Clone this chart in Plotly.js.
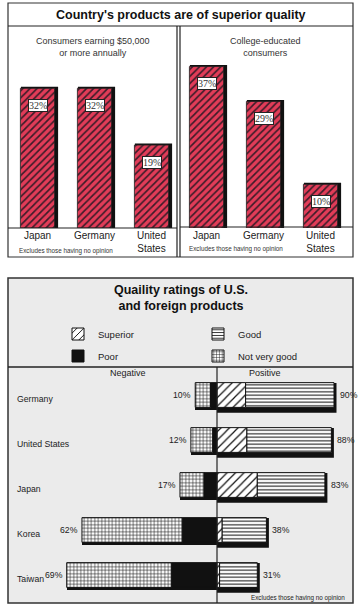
<!DOCTYPE html>
<html>
<head>
<meta charset="utf-8">
<script src="https://cdn.plot.ly/plotly-3.0.1.min.js"></script>
<style>html,body{margin:0;padding:0;background:#fff;}#chart{width:361px;height:610px;}</style>
</head>
<body>
<div id="chart"></div>
<script>
// ---- data ----
const topCategories = ['Japan', 'Germany', 'United<br>States'];
const incomeValues = [32, 32, 19];          // Consumers earning $50,000 or more annually
const collegeValues = [37, 29, 10];         // College-educated consumers

const countries = ['Germany', 'United States', 'Japan', 'Korea', 'Taiwan'];
const superior = [22, 23, 31, 4, 2];
const good = [68, 65, 52, 34, 29];
const poor = [3, 2, 6, 16, 21];
const notVeryGood = [7, 10, 11, 46, 48];

// ---- helpers ----
const W = 361, H = 610;
const px = x => x / W;
const py = y => 1 - y / H;
const SANS = 'Liberation Sans, Arial, sans-serif';
const SERIF = 'Liberation Serif, Times New Roman, serif';

const negTotals = poor.map((p, i) => p + notVeryGood[i]);
const posTotals = superior.map((s, i) => s + good[i]);

const RED = '#e23c58';
const topBar = (vals, xa, ya) => ([
  { type: 'bar', x: topCategories, y: vals, xaxis: xa, yaxis: ya, width: 0.6, offset: -0.3 + 0.035,
    marker: { color: '#111', line: { color: '#111', width: 3 } }, showlegend: false, hoverinfo: 'skip' },
  { type: 'bar', x: topCategories, y: vals, xaxis: xa, yaxis: ya, width: 0.6, offset: -0.3,
    marker: { color: RED, line: { color: '#222', width: 0.8 },
      pattern: { shape: '/', fgcolor: '#3a1c28', bgcolor: RED, size: 5, solidity: 0.33 } },
    showlegend: false, hoverinfo: 'skip' }
]);

const BW = 0.55, SH = 0.065;
const traces = [
  ...topBar(incomeValues, 'x', 'y'),
  ...topBar(collegeValues, 'x2', 'y2'),
  // shadows
  { type: 'bar', orientation: 'h', y: countries, x: negTotals, base: negTotals.map(v => -v),
    xaxis: 'x3', yaxis: 'y3', width: BW, offset: -BW / 2 + SH,
    marker: { color: '#111', line: { color: '#111', width: 0 } }, showlegend: false, hoverinfo: 'skip' },
  { type: 'bar', orientation: 'h', y: countries, x: posTotals, base: posTotals.map(() => 0),
    xaxis: 'x4', yaxis: 'y3', width: BW, offset: -BW / 2 + SH,
    marker: { color: '#111', line: { color: '#111', width: 5 } }, showlegend: false, hoverinfo: 'skip' },
  // segments
  { type: 'bar', orientation: 'h', name: 'Superior', y: countries, x: superior, base: superior.map(() => 0),
    xaxis: 'x4', yaxis: 'y3', width: BW, offset: -BW / 2, legend: 'legend',
    marker: { color: '#fff', line: { color: '#111', width: 1 },
      pattern: { shape: '/', fgcolor: '#111', bgcolor: '#fff', size: 6, solidity: 0.2 } }, hoverinfo: 'skip' },
  { type: 'bar', orientation: 'h', name: 'Good', y: countries, x: good, base: superior,
    xaxis: 'x4', yaxis: 'y3', width: BW, offset: -BW / 2, legend: 'legend',
    marker: { color: '#fff', line: { color: '#111', width: 1 },
      pattern: { shape: '-', fgcolor: '#111', bgcolor: '#fff', size: 3.5, solidity: 0.3 } }, hoverinfo: 'skip' },
  { type: 'bar', orientation: 'h', name: 'Poor', y: countries, x: poor, base: poor.map(v => -v),
    xaxis: 'x3', yaxis: 'y3', width: BW, offset: -BW / 2, legend: 'legend2',
    marker: { color: '#111', line: { color: '#111', width: 1 } }, hoverinfo: 'skip' },
  { type: 'bar', orientation: 'h', name: 'Not very good', y: countries, x: notVeryGood, base: negTotals.map(v => -v),
    xaxis: 'x3', yaxis: 'y3', width: BW, offset: -BW / 2, legend: 'legend2',
    marker: { color: '#fff', line: { color: '#111', width: 1 },
      pattern: { shape: '+', fgcolor: '#111', bgcolor: '#fff', size: 3.5, solidity: 0.3 } }, hoverinfo: 'skip' }
];

const annotations = [];
const A = (o) => annotations.push(Object.assign({ showarrow: false, font: { family: SANS, size: 9, color: '#222' } }, o));

// top texts
A({ xref: 'paper', yref: 'paper', x: px(181), y: py(15), text: "<b>Country's products are of superior quality</b>",
    font: { family: SANS, size: 12.5, color: '#111' }, xanchor: 'center', yanchor: 'middle' });
A({ xref: 'paper', yref: 'paper', x: px(93), y: py(47), text: 'Consumers earning $50,000<br>or more annually',
    font: { family: SANS, size: 9, color: '#333' }, xanchor: 'center', yanchor: 'middle' });
A({ xref: 'paper', yref: 'paper', x: px(265), y: py(47), text: 'College-educated<br>consumers',
    font: { family: SANS, size: 9, color: '#333' }, xanchor: 'center', yanchor: 'middle' });
A({ xref: 'paper', yref: 'paper', x: px(17), y: py(251), text: 'Excludes those having no opinion',
    font: { family: SANS, size: 6.3, color: '#333' }, xanchor: 'left', yanchor: 'middle' });
A({ xref: 'paper', yref: 'paper', x: px(187), y: py(249), text: 'Excludes those having no opinion',
    font: { family: SANS, size: 6.3, color: '#333' }, xanchor: 'left', yanchor: 'middle' });
[[incomeValues, 'x', 'y'], [collegeValues, 'x2', 'y2']].forEach(([vals, xr, yr]) => {
  vals.forEach((v, i) => A({ xref: xr, yref: yr, x: topCategories[i], y: v, yshift: -17, text: v + '%',
    bgcolor: '#fff', bordercolor: '#222', borderwidth: 1, borderpad: 0,
    font: { family: SERIF, size: 10, color: '#333' }, xanchor: 'center', yanchor: 'middle' }));
});

// bottom texts
A({ xref: 'paper', yref: 'paper', x: px(181), y: py(298), text: '<b>Quaility ratings of U.S.<br>and foreign products</b>',
    font: { family: SANS, size: 12.5, color: '#111' }, xanchor: 'center', yanchor: 'middle' });
A({ xref: 'paper', yref: 'paper', x: px(128), y: py(373), text: 'Negative', xanchor: 'center', yanchor: 'middle' });
A({ xref: 'paper', yref: 'paper', x: px(265), y: py(373), text: 'Positive', xanchor: 'center', yanchor: 'middle' });
A({ xref: 'paper', yref: 'paper', x: px(347), y: py(598), text: 'Excludes those having no opinion',
    font: { family: SANS, size: 6.3, color: '#222' }, xanchor: 'right', yanchor: 'middle' });
countries.forEach((c, i) => {
  A({ xref: 'paper', yref: 'y3', x: px(15), y: c, yshift: -4, text: c, xanchor: 'left', yanchor: 'middle',
      font: { family: SANS, size: 8.7, color: '#222' } });
  A({ xref: 'x3', yref: 'y3', x: -negTotals[i], y: c, xshift: -2, text: negTotals[i] + '%', xanchor: 'right', yanchor: 'middle',
      font: { family: SANS, size: 8.7, color: '#222' } });
  A({ xref: 'x4', yref: 'y3', x: posTotals[i], y: c, xshift: 4, text: posTotals[i] + '%', xanchor: 'left', yanchor: 'middle',
      font: { family: SANS, size: 8.7, color: '#222' } });
});

const L = (x0, y0, x1, y1, w) => ({ type: 'line', xref: 'paper', yref: 'paper', x0: px(x0), y0: py(y0), x1: px(x1), y1: py(y1),
  line: { color: '#222', width: w || 1 } });
const shapes = [
  { type: 'rect', xref: 'paper', yref: 'paper', x0: px(8), y0: py(278), x1: px(353), y1: py(603),
    fillcolor: '#ebebeb', line: { color: '#333', width: 1.5 }, layer: 'below' },
  { type: 'rect', xref: 'paper', yref: 'paper', x0: px(8), y0: py(3), x1: px(353), y1: py(257),
    fillcolor: 'rgba(0,0,0,0)', line: { color: '#333', width: 1.2 }, layer: 'above' },
  L(8, 26, 353, 26, 1.2), L(177, 26, 177, 257, 1.2), L(180, 26, 180, 257, 1.2),
  L(8, 228, 177, 228, 1.2), L(180, 227, 353, 227, 1.2),
  L(8, 367, 353, 367, 1.5), L(217, 367, 217, 603, 1.2)
];

const hiddenAx = { visible: false, fixedrange: true };
const catAx = {
  type: 'category', showgrid: false, zeroline: false, showline: false, ticks: '',
  tickfont: { family: SANS, size: 10, color: '#222' }, fixedrange: true
};
const legendBase = { orientation: 'h', xanchor: 'left', yanchor: 'top',
  entrywidth: 95, entrywidthmode: 'pixels', bgcolor: 'rgba(0,0,0,0)', borderwidth: 0,
  font: { family: SANS, size: 9.5, color: '#222' }, itemclick: false, itemdoubleclick: false };
const layout = {
  width: W, height: H, margin: { l: 0, r: 0, t: 0, b: 0 },
  paper_bgcolor: '#fff', plot_bgcolor: 'rgba(0,0,0,0)',
  barmode: 'overlay', bargap: 0,
  xaxis: Object.assign({}, catAx, { domain: [px(9), px(180)], anchor: 'y' }),
  yaxis: Object.assign({}, hiddenAx, { domain: [py(228), py(60)], range: [0, 38.5] }),
  xaxis2: Object.assign({}, catAx, { domain: [px(178), px(349)], anchor: 'y2' }),
  yaxis2: Object.assign({}, hiddenAx, { domain: [py(228), py(60)], range: [0, 38.5], anchor: 'x2' }),
  xaxis3: Object.assign({}, hiddenAx, { domain: [px(58), px(217)], range: [-73, 0], anchor: 'y3' }),
  xaxis4: Object.assign({}, hiddenAx, { domain: [px(217), px(347)], range: [0, 100], anchor: 'y3' }),
  yaxis3: Object.assign({}, hiddenAx, { type: 'category', domain: [py(597.5), py(372.5)], anchor: 'x3',
    autorange: 'reversed', categoryorder: 'array', categoryarray: countries }),
  showlegend: true,
  legend: Object.assign({}, legendBase, { x: px(58), y: py(319.5) }),
  legend2: Object.assign({}, legendBase, { x: px(58), y: py(341.5) }),
  annotations, shapes
};

Plotly.newPlot('chart', traces, layout, { displayModeBar: false, staticPlot: true });
</script>
</body>
</html>
